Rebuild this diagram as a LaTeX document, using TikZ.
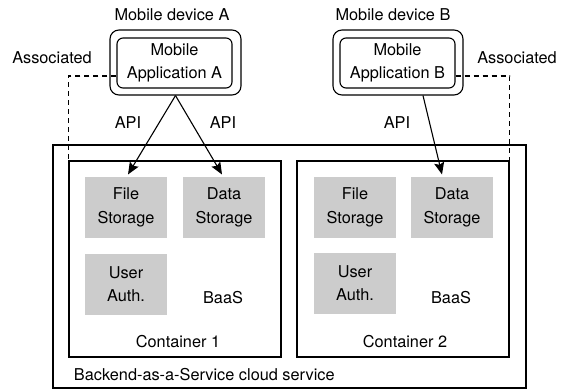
\documentclass[tikz,border=0pt]{standalone}
\usepackage{fontspec}
\setmainfont{TeX Gyre Heros}
\usepackage{xcolor}
\definecolor{gris}{RGB}{204,204,204}
\usetikzlibrary{shapes,arrows.meta,calc,positioning}

\begin{document}
\begin{tikzpicture}[x=1pt,y=-1pt,line width=1.1pt,
    every node/.style={font=\fontsize{16.3}{23.5}\selectfont,align=center},
    stockage/.style={fill=gris,minimum width=82pt,minimum height=61pt,inner sep=0pt},
    boite/.style={draw,minimum width=212pt,minimum height=196pt,inner sep=0pt},
    appareil/.style={draw,rounded corners=9pt,minimum width=131pt,minimum height=65pt,inner sep=0pt},
    appli/.style={draw,rounded corners=6pt,minimum width=115pt,minimum height=50pt,inner sep=0pt},
    fleche/.style={-{Stealth[length=12pt,width=10pt,inset=2pt]}},
    lien/.style={dash pattern=on 5pt off 4pt}]
    \useasboundingbox (0,0) rectangle (564,389);
    % le service cloud
    \node[draw,minimum width=473pt,minimum height=243pt,inner sep=0pt] (cloud) at(289.5,266.5){};
    \node[anchor=west] (cloudtxt) at(70,375){Backend-as-a-Service cloud service};
    % conteneur 1
    \node[boite] (cont1) at(175,259){};
    \node[stockage] (file1) at(126,207.5){File\\Storage};
    \node[stockage] (data1) at(224,207.5){Data\\Storage};
    \node[stockage] (user1) at(126,284){User\\Auth.};
    \node (baas1) at(223,298){BaaS};
    \node (cont1txt) at(178,342){Container 1};
    % conteneur 2
    \node[boite] (cont2) at(403,259){};
    \node[stockage] (file2) at(355,207.5){File\\Storage};
    \node[stockage] (data2) at(452,207.5){Data\\Storage};
    \node[stockage] (user2) at(355,283){User\\Auth.};
    \node (baas2) at(451,298){BaaS};
    \node (cont2txt) at(405,342){Container 2};
    % appareils mobiles
    \node[appareil] (devA) at(175.5,62.5){};
    \node[appli] (appA) at(174.5,63){Mobile\\Application A};
    \node (devAtxt) at(172,15){Mobile device A};
    \node[appareil,minimum width=130pt] (devB) at(398,62.5){};
    \node[appli] (appB) at(397.5,63){Mobile\\Application B};
    \node (devBtxt) at(393,15){Mobile device B};
    \node (assA) at(52,58){Associated};
    \node (assB) at(517,58){Associated};
    \node (apiA1) at(128,123){API};
    \node (apiA2) at(223,123){API};
    \node (apiB) at(397,123){API};
    % liens
    \draw[lien] ([yshift=-13pt]appA.west) -| (cont1.north west);
    \draw[lien] ([yshift=-13pt]appB.east) -| (cont2.north east);
    \draw[fleche] (devA.south) -- ([xshift=2pt,yshift=2pt]file1.north);
    \draw[fleche] (devA.south) -- ([xshift=-2pt,yshift=2pt]data1.north);
    \draw[fleche] ([xshift=25pt]devB.south) -- ([xshift=-10pt,yshift=2pt]data2.north);
\end{tikzpicture}
\end{document}
